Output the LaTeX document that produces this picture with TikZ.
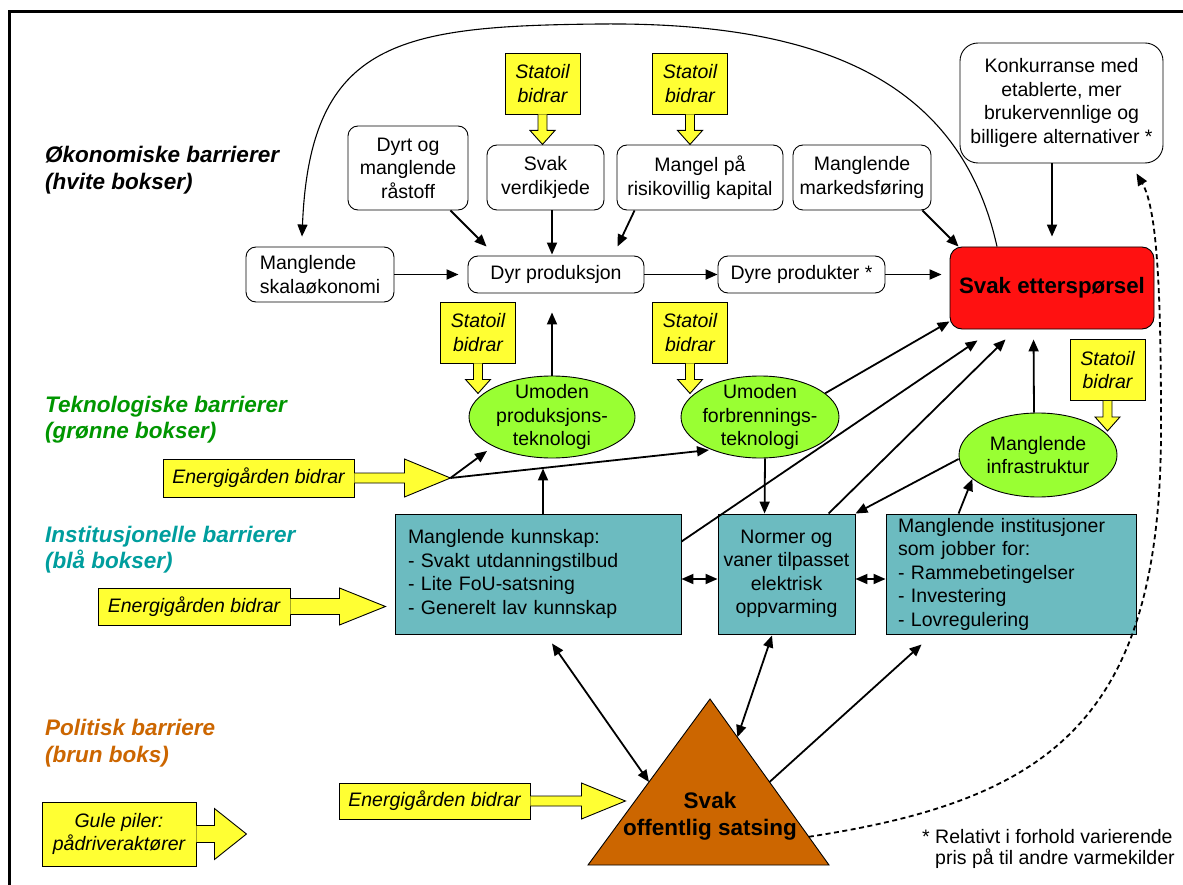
\documentclass[tikz,border=0pt]{standalone}
\usepackage{fontspec}
\setmainfont{Liberation Sans}
\usetikzlibrary{arrows.meta,shapes.geometric,calc}
\definecolor{ygold}{RGB}{255,255,51}
\definecolor{tealbox}{RGB}{108,187,192}
\definecolor{lgreen}{RGB}{153,255,51}
\definecolor{redbox}{RGB}{255,17,17}
\definecolor{brownbox}{RGB}{204,102,0}
\definecolor{labgreen}{RGB}{0,150,0}
\definecolor{labteal}{RGB}{0,158,158}
\newcommand\dgnf{\fontsize{19.5}{23.5}\selectfont}
\newcommand\dglab{\fontsize{22.5}{26.5}\selectfont}
\newcommand\dgfn{\fontsize{19.5}{20.5}\selectfont}
\begin{document}
\begin{tikzpicture}[x=1pt,y=-1pt,
  wbox/.style={draw, rounded corners=10pt, fill=white, line width=0.9pt, align=center, inner sep=0pt, font=\dgnf},
  tbox/.style={draw, fill=tealbox, line width=0.9pt, inner sep=0pt, font=\dgnf},
  gell/.style={draw, ellipse, fill=lgreen, line width=0.9pt, inner sep=0pt},
  ytxt/.style={font=\dgnf, align=center},
  statbox/.style={draw, fill=ygold, line width=0.9pt, minimum width=75pt, minimum height=61pt, inner sep=0pt, align=center, font=\dgnf\itshape},
  ebox/.style={draw, fill=ygold, line width=0.9pt, inner sep=0pt, align=center, font=\dgnf\itshape},
  yshape/.style={fill=ygold, draw=black, line width=0.9pt, line join=miter},
  lab/.style={anchor=west, align=left, font=\dglab\bfseries\itshape, inner sep=0pt},
  conn/.style={line width=1.8pt, -{Triangle[length=12pt,width=10pt]}},
  dconn/.style={line width=1.8pt, {Triangle[length=12pt,width=10pt]}-{Triangle[length=12pt,width=10pt]}},
  thinconn/.style={line width=1.1pt, -{Triangle[length=12pt,width=10pt]}}
]
\useasboundingbox (0,0) rectangle (1183,885);
\fill[white] (0,0) rectangle (1183,885);
\draw[line width=3pt] (9.5,885) -- (9.5,11.5) -- (1183,11.5);

% labels
\node[lab, text=black] (labO) at (45,170) {Økonomiske barrierer\\(hvite bokser)};
\node[lab, text=labgreen] (labT) at (45,419.5) {Teknologiske barrierer\\(grønne bokser)};
\node[lab, text=labteal] (labI) at (45,549.5) {Institusjonelle barrierer\\(blå bokser)};
\node[lab, text=brownbox] (labP) at (45,743) {Politisk barriere\\(brun boks)};

% white boxes
\node[wbox, minimum width=120pt, minimum height=84pt] (dyrt) at (408,168) {Dyrt og\\manglende\\råstoff};
\node[wbox, minimum width=117pt, minimum height=65pt] (svk) at (545.5,177.5) {Svak\\verdikjede};
\node[wbox, minimum width=166pt, minimum height=65pt] (mangel) at (700,177.5) {Mangel på\\risikovillig kapital};
\node[wbox, minimum width=138pt, minimum height=65pt] (marked) at (862,177.5) {Manglende\\markedsføring};
\node[wbox, rounded corners=18pt, minimum width=203pt, minimum height=120pt] (konk) at (1061.5,103) {Konkurranse med\\etablerte, mer\\brukervennlige og\\billigere alternativer *};
\node[wbox, align=left, minimum width=148pt, minimum height=55pt] (skala) at (320,274.5) {Manglende\\skalaøkonomi};
\node[wbox, minimum width=176pt, minimum height=37pt] (dyrprod) at (556,274.5) {Dyr produksjon};
\node[wbox, minimum width=167pt, minimum height=37pt] (dyre) at (801.5,274.5) {Dyre produkter *};
\node[draw, fill=redbox, rounded corners=12pt, line width=0.9pt, minimum width=204pt, minimum height=82pt, inner sep=0pt, font=\fontsize{22.3}{26}\selectfont\bfseries] (svakE) at (1052,288) {Svak etterspørsel};

% statoil boxes
\node[statbox] (s1) at (542.5,83.5) {Statoil\\bidrar};
\node[statbox] (s2) at (690,83.5) {Statoil\\bidrar};
\node[statbox] (s3) at (478,332.5) {Statoil\\bidrar};
\node[statbox] (s4) at (690,332.5) {Statoil\\bidrar};
\node[statbox] (s5) at (1107.5,370) {Statoil\\bidrar};
\foreach \s in {s1,s2,s3,s4,s5}{
  \filldraw[yshape] ($(\s.south)+(-4.5,0)$) -- ++(0,16) -- ++(-8,0) -- ($(\s.south)+(0,30)$) -- ($(\s.south)+(12.5,16)$) -- ++(-8,0) -- ($(\s.south)+(4.5,0)$);
}

% green ellipses
\node[gell, minimum width=166pt, minimum height=82pt] (prodE) at (552,417) {};
\node[ytxt] (prodT) at (prodE) {Umoden\\produksjons-\\teknologi};
\node[gell, minimum width=158pt, minimum height=82pt] (forbE) at (760,417) {};
\node[ytxt] (forbT) at (forbE) {Umoden\\forbrennings-\\teknologi};
\node[gell, minimum width=158pt, minimum height=84pt] (infraE) at (1038,455) {};
\node[ytxt] (infraT) at (infraE) {Manglende\\infrastruktur};

% teal boxes
\node[tbox, minimum width=286pt, minimum height=120pt, text width=260pt, align=left, inner xsep=13pt] (kunn) at (538,574) {Manglende kunnskap:\\- Svakt utdanningstilbud\\- Lite FoU-satsning\\- Generelt lav kunnskap};
\node[tbox, minimum width=137pt, minimum height=120pt, align=center] (normer) at (786.5,574) {Normer og\\vaner tilpasset\\elektrisk\\oppvarming};
\node[tbox, minimum width=250pt, minimum height=120pt, text width=226pt, align=left, inner xsep=12pt] (inst) at (1011,574) {Manglende institusjoner\\som jobber for:\\- Rammebetingelser\\- Investering\\- Lovregulering};

% yellow Energigården arrows
\node[ebox, minimum width=191pt, minimum height=38pt] (e1) at (258.5,478) {Energigården bidrar};
\filldraw[yshape] ($(e1.east)+(0,-5)$) -- ++(50,0) -- ++(0,-14) -- ($(e1.east)+(96,0)$) -- ($(e1.east)+(50,19)$) -- ++(0,-14) -- ($(e1.east)+(0,5)$);
\coordinate (e1tip) at ($(e1.east)+(96,0)$);
\node[ebox, minimum width=192pt, minimum height=37pt] (e2) at (194,606.5) {Energigården bidrar};
\filldraw[yshape] ($(e2.east)+(0,-8)$) -- ++(49,0) -- ++(0,-10.5) -- ($(e2.east)+(95,0)$) -- ($(e2.east)+(49,18.5)$) -- ++(0,-10.5) -- ($(e2.east)+(0,8)$);
\node[ebox, minimum width=191pt, minimum height=36pt] (e3) at (434.5,801) {Energigården bidrar};
\filldraw[yshape] ($(e3.east)+(0,-5)$) -- ++(51,0) -- ++(0,-13) -- ($(e3.east)+(95,0)$) -- ($(e3.east)+(51,18)$) -- ++(0,-13) -- ($(e3.east)+(0,5)$);
\node[ebox, minimum width=154pt, minimum height=64pt] (gule) at (119,834) {Gule piler:\\pådriveraktører};
\filldraw[yshape] ($(gule.east)+(0,-8.5)$) -- ++(18,0) -- ++(0,-17) -- ($(gule.east)+(50,0)$) -- ($(gule.east)+(18,25.5)$) -- ++(0,-17) -- ($(gule.east)+(0,8.5)$);

% triangle
\coordinate (apex) at (710,699);
\coordinate (bl) at (588,865);
\coordinate (br) at (829,865);
\filldraw[fill=brownbox, draw=black, line width=0.9pt] (apex) -- (bl) -- (br) -- cycle;
\node[align=center, font=\fontsize{22.5}{27}\selectfont\bfseries] (triT) at (710,816.5) {Svak\\offentlig satsing};

% footnote
\node[anchor=west, align=left, font=\dgfn, inner sep=0pt] (fn) at (922,849) {* Relativt i forhold varierende\\\hspace*{13pt}pris på til andre varmekilder};

% connectors economic
\draw[conn] (skala.east) -- ($(dyrprod.west)+(-9,0)$);
\draw[conn] ($(dyrt.south east)+(-18,0)$) -- ($(dyrprod.north west)+(19,-9)$);
\draw[conn] ($(svk.south)+(6.5,0)$) -- ($(dyrprod.north)+(-4,-1)$);
\draw[conn] ($(mangel.south west)+(18,0)$) -- ($(dyrprod.north east)+(-27,-9)$);
\draw[conn] ($(marked.south east)+(-9,0)$) -- ($(svakE.north west)+(9,0)$);
\draw[conn] ($(konk.south)+(-9.5,0)$) -- ($(svakE.north)+(0,-10)$);
\draw[conn] (dyrprod.east) -- (dyre.west);
\draw[conn] (dyre.east) -- ($(svakE.west)+(-8,-13.5)$);
\draw[thinconn] ($(svakE.north)+(-55,0)$) .. controls (960,80) and (820,22) .. (600,24)
   .. controls (400,26) and (310,40) .. ($(skala.north)+(-18,-10)$);

% connectors technological
\draw[conn] (prodE.north) -- ($(dyrprod.south)+(-4,19)$);
\draw[conn] (e1tip) -- ($(prodE.center)+(-65,34)$);
\draw[conn] (e1tip) -- ($(forbE.center)+(-51,33)$);
\draw[conn] ($(kunn.north)+(5,0)$) -- ($(prodE.south)+(-9,10)$);
\draw[conn] (forbE.20) -- ($(svakE.south west)+(0,-8)$);
\draw[conn] ($(kunn.north east)+(0,28)$) -- ($(svakE.south west)+(28,11)$);
\draw[conn] ($(forbE.south)+(5,0)$) -- ($(normer.north west)+(47,0)$);
\draw[conn] ($(normer.north west)+(111,0)$) -- ($(svakE.south west)+(56,10)$);
\draw[conn] ($(infraE.north)+(-4,0)$) -- ($(svakE.south west)+(84,10)$);
\draw[conn] ($(infraE.west)+(0,4)$) -- (normer.north east);
\draw[conn] ($(inst.north west)+(73,0)$) -- (infraE.200);

% institutional / political
\draw[dconn] ($(kunn.east)+(0,5)$) -- ($(normer.west)+(0,5)$);
\draw[dconn] ($(normer.east)+(0,5)$) -- ($(inst.west)+(0,5)$);
\draw[dconn] ($(kunn.south)+(14,9)$) -- ($(apex)!0.5!(bl)$);
\draw[dconn] ($(normer.south)+(-14.5,1)$) -- ($(apex)!0.23!(br)$);
\draw[conn] ($(apex)!0.5!(br)$) -- ($(inst.south west)+(36,10)$);
\draw[line width=1.8pt, dash pattern=on 5pt off 3.5pt, -{Triangle[length=12pt,width=10pt]}] ($(apex)!0.83!(br)$) .. controls (1050,800) and (1161,720) .. (1161,430) .. controls (1161,300) and (1158,210) .. ($(konk.south east)+(-27,10)$);
\end{tikzpicture}
\end{document}
